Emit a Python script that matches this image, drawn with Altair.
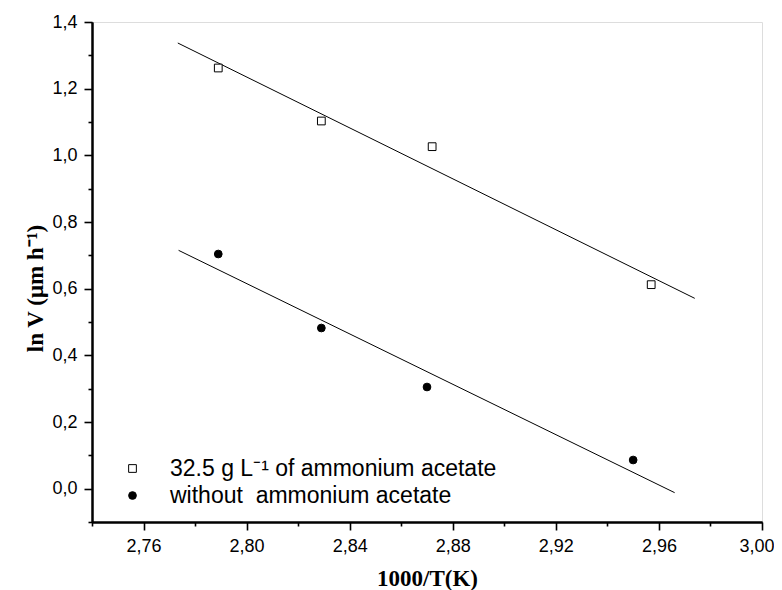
import altair as alt
import pandas as pd

# ---- data ----
series_labels = ["32.5 g L\u207b\u00b9 of ammonium acetate", "without\u00a0 ammonium acetate"]

x_with = [2.789, 2.829, 2.872, 2.957]
y_with = [1.262, 1.103, 1.026, 0.612]

x_without = [2.789, 2.829, 2.870, 2.950]
y_without = [0.704, 0.482, 0.305, 0.086]

# fitted lines (end points)
fit_with_x = [2.7733, 2.9739]
fit_with_y = [1.337, 0.571]
fit_without_x = [2.7736, 2.9661]
fit_without_y = [0.715, -0.012]

x_major = [2.76, 2.80, 2.84, 2.88, 2.92, 2.96, 3.00]
x_minor = [2.74, 2.78, 2.82, 2.86, 2.90, 2.94, 2.98]
y_major = [0.0, 0.2, 0.4, 0.6, 0.8, 1.0, 1.2, 1.4]
y_minor = [-0.1, 0.1, 0.3, 0.5, 0.7, 0.9, 1.1, 1.3]

pts = pd.DataFrame({
    "x": x_with + x_without,
    "y": y_with + y_without,
    "series": [series_labels[0]] * len(x_with) + [series_labels[1]] * len(x_without),
})
fits = pd.DataFrame({
    "x": fit_with_x + fit_without_x,
    "y": fit_with_y + fit_without_y,
    "series": [series_labels[0]] * 2 + [series_labels[1]] * 2,
})

x_scale = alt.Scale(domain=[2.74, 3.00], nice=False, zero=False)
y_scale = alt.Scale(domain=[-0.1, 1.4], nice=False, zero=False)

common = dict(grid=False, domainColor="black", domainWidth=2, tickColor="black", tickWidth=1.6)

x_axis = alt.Axis(
    orient="bottom",
    values=x_major,
    labelExpr="replace(format(datum.value, '.2f'), '.', ',')",
    tickSize=8,
    title="1000/T(K)",
    titleFont="Liberation Serif", titleFontWeight="bold", titleFontSize=23,
    titleY=45, titleColor="black",
    labelFont="Liberation Sans", labelFontSize=18, labelColor="black", labelPadding=7,
    labelFlush=4, labelFlushOffset=12, labelOverlap=False,
    **common,
)
y_axis = alt.Axis(
    orient="left",
    values=y_major,
    labelExpr="replace(format(datum.value, '.1f'), '.', ',')",
    tickSize=8,
    title="ln V (\u03bcm h\u207b\u00b9)",
    titleFont="Liberation Serif", titleFontWeight="bold", titleFontSize=23,
    titleX=-50, titleY=266, titleAngle=270, titleBaseline="alphabetic", titleAlign="center",
    titleColor="black",
    labelFont="Liberation Sans", labelFontSize=18, labelColor="black", labelPadding=7,
    labelFlush=False, labelOverlap=False,
    **common,
)
x_axis_minor = alt.Axis(orient="bottom", values=x_minor, tickSize=4, labels=False, title=None, **common)
y_axis_minor = alt.Axis(orient="left", values=y_minor, tickSize=4, labels=False, title=None, **common)

lines = alt.Chart(fits).mark_line(color="black", strokeWidth=1).encode(
    x=alt.X("x:Q", scale=x_scale, axis=x_axis),
    y=alt.Y("y:Q", scale=y_scale, axis=y_axis),
    detail="series:N",
)

legend = alt.Legend(
    title=None, orient="none", legendX=29, legendY=435,
    labelFont="Liberation Sans", labelFontSize=23, labelColor="black", labelLimit=600,
    labelOffset=26, rowPadding=3, padding=0, symbolSize=60,
    symbolStrokeColor="black", symbolStrokeWidth=1,
)

points = alt.Chart(pts).mark_point(filled=False, color="black", strokeWidth=1, size=60, opacity=1).encode(
    x=alt.X("x:Q", scale=x_scale, axis=x_axis_minor),
    y=alt.Y("y:Q", scale=y_scale, axis=y_axis_minor),
    shape=alt.Shape("series:N", scale=alt.Scale(domain=series_labels, range=["square", "circle"]), legend=legend),
    fill=alt.Fill("series:N", scale=alt.Scale(domain=series_labels, range=["white", "black"]), legend=legend),
    stroke=alt.Stroke("series:N", scale=alt.Scale(domain=series_labels, range=["black", "black"]), legend=legend),
)

chart = alt.layer(lines, points).resolve_axis(x="independent", y="independent").properties(
    width=670, height=500,
    autosize=alt.AutoSizeParams(type="none"),
    padding={"left": 84, "top": 14, "right": 12, "bottom": 70},
).configure_view(stroke="black", strokeWidth=2).configure(background="white")

chart.save("out.html", embed_options={"renderer": "svg", "actions": False})
